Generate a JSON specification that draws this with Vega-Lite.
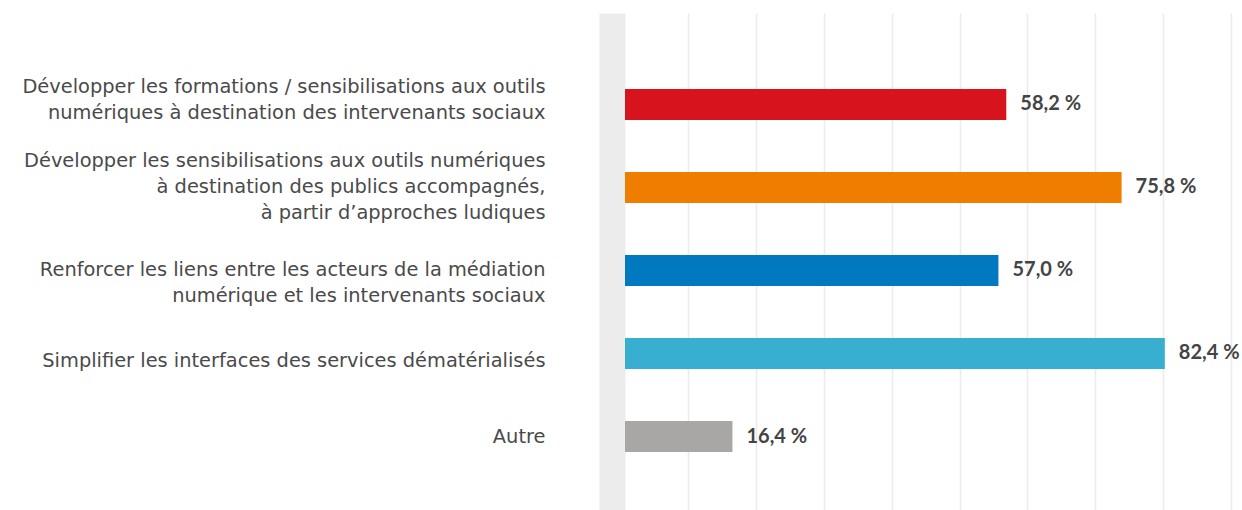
{
  "$schema": "https://vega.github.io/schema/vega-lite/v6.json",
  "autosize": {"type": "none"},
  "padding": {"left": 625, "top": 13, "right": 11, "bottom": 0},
  "width": 606,
  "height": 497,
  "background": "white",
  "config": {"view": {"stroke": null}},
  "data": {
    "values": [
      {"cat": "Développer les formations / sensibilisations aux outils|numériques à destination des intervenants sociaux", "value": 58.2},
      {"cat": "Développer les sensibilisations aux outils numériques|à destination des publics accompagnés,|à partir d’approches ludiques", "value": 75.8},
      {"cat": "Renforcer les liens entre les acteurs de la médiation|numérique et les intervenants sociaux", "value": 57.0},
      {"cat": "Simplifier les interfaces des services dématérialisés", "value": 82.4},
      {"cat": "Autre", "value": 16.4}
    ]
  },
  "transform": [
    {"calculate": "replace(format(datum.value, '.1f'), '.', ',') + ' %'", "as": "lbl"}
  ],
  "encoding": {
    "y": {
      "field": "cat",
      "type": "nominal",
      "sort": null,
      "scale": {"paddingInner": 0.627, "paddingOuter": 0.807, "align": 0.567},
      "axis": {
        "title": null,
        "ticks": false,
        "grid": false,
        "domain": true,
        "domainColor": "#ececec",
        "domainWidth": 26,
        "offset": 13,
        "labelPadding": 67,
        "labelFont": "DejaVu Sans",
        "labelFontSize": 19.4,
        "labelColor": "#4a4a4a",
        "labelLimit": 0,
        "labelAlign": "right",
        "labelLineHeight": 26,
        "labelOffset": {
          "condition": [
            {"test": "test(/formations/, datum.value)", "value": -17},
            {"test": "test(/ludiques/, datum.value)", "value": -26},
            {"test": "test(/Simplifier/, datum.value)", "value": 8}
          ],
          "value": 0
        },
        "labelExpr": "split(datum.label, '|')"
      }
    },
    "x": {
      "field": "value",
      "type": "quantitative",
      "scale": {"domain": [0, 92.5], "nice": false, "zero": true},
      "axis": {
        "title": null,
        "orient": "top",
        "values": [9.62, 19.98, 30.34, 40.7, 51.06, 61.4, 71.76, 82.12, 92.47],
        "labels": false,
        "ticks": false,
        "domain": false,
        "grid": true,
        "gridColor": "#ebebeb",
        "gridWidth": 1.5
      }
    }
  },
  "layer": [
    {
      "mark": {"type": "bar"},
      "encoding": {
        "color": {
          "field": "cat",
          "type": "nominal",
          "sort": null,
          "legend": null,
          "scale": {"range": ["#d7141e", "#ef7d00", "#0079c1", "#38aed1", "#a8a7a5"]}
        }
      }
    },
    {
      "mark": {"type": "text", "align": "left", "baseline": "middle", "dx": 14, "font": "Lato", "fontSize": 20, "fontWeight": "bold", "color": "#444444"},
      "encoding": {"text": {"field": "lbl"}}
    }
  ]
}
